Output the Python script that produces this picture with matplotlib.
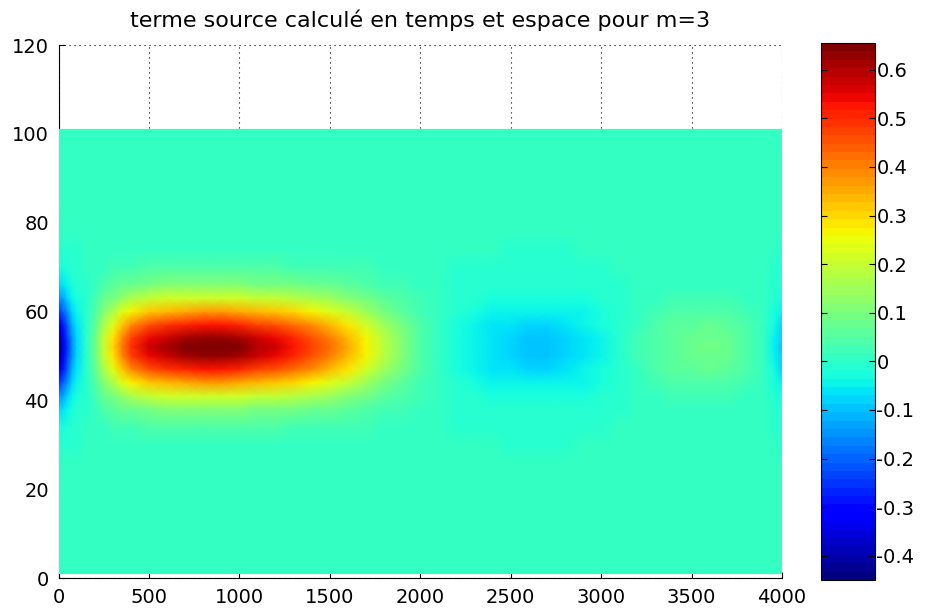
import numpy as np
import matplotlib
matplotlib.use("Agg")
import matplotlib.pyplot as plt

plt.rcParams['font.family'] = ['DejaVu Sans']
plt.rcParams['axes.unicode_minus'] = False

# ---------- DATA ----------
# time axis samples and the source amplitude along the centre line (y ~ 52)
t_nodes = [0, 25, 50, 75, 100, 150, 200, 250, 300, 350, 400, 500, 600, 700,
           800, 900, 1000, 1100, 1200, 1300, 1400, 1500, 1600, 1700, 1800,
           1900, 2000, 2100, 2200, 2300, 2400, 2500, 2600, 2700, 2800, 2900,
           3000, 3100, 3200, 3300, 3400, 3500, 3600, 3700, 3800, 3900, 3950,
           4000]
t_amp = [-0.45, -0.36, -0.25, -0.15, -0.08, -0.01, 0.08, 0.2, 0.3, 0.4,
         0.49, 0.57, 0.61, 0.64, 0.655, 0.65, 0.64, 0.6, 0.57, 0.53, 0.48,
         0.42, 0.35, 0.27, 0.18, 0.11, 0.05, 0.01, -0.03, -0.05, -0.07,
         -0.085, -0.092, -0.092, -0.085, -0.065, -0.04, -0.01, 0.02, 0.045,
         0.065, 0.08, 0.088, 0.075, 0.045, 0.0, -0.04, -0.09]

# space axis samples and the relative spatial shape of the source
y_nodes = [1, 20, 26, 30, 34, 38, 41, 44, 47, 50, 52, 54, 57, 60, 63, 66,
           70, 74, 78, 84, 101]
y_shape = [0.0, 0.0, 0.003, 0.015, 0.06, 0.17, 0.34, 0.56, 0.80, 0.96, 1.0,
           0.96, 0.80, 0.56, 0.34, 0.17, 0.06, 0.015, 0.003, 0.0, 0.0]

clim = (-0.45, 0.655)
cbar_ticks = [-0.4, -0.3, -0.2, -0.1, 0, 0.1, 0.2, 0.3, 0.4, 0.5, 0.6]
cbar_labels = ['-0.4', '-0.3', '-0.2', '-0.1', '0', '0.1', '0.2', '0.3',
               '0.4', '0.5', '0.6']
xticks = [0, 500, 1000, 1500, 2000, 2500, 3000, 3500, 4000]
yticks = [0, 20, 40, 60, 80, 100, 120]
title = 'terme source calculé en temps et espace pour m=3'

# ---------- FIELD ----------
T, Y = np.meshgrid(t_nodes, y_nodes)
Z = np.outer(y_shape, t_amp)

# ---------- PLOT ----------
fig = plt.figure(figsize=(9.26, 6.09), dpi=100)
ax = fig.add_axes([0.0632, 0.0509, 0.7813, 0.8752])
cax = fig.add_axes([0.8866, 0.0476, 0.0583, 0.8818])

jet64 = plt.get_cmap('jet', 64)
mesh = ax.pcolormesh(T, Y, Z, shading='gouraud', cmap=jet64,
                     vmin=clim[0], vmax=clim[1], zorder=3)

ax.set_xlim(0, 4000)
ax.set_ylim(0, 120)
ax.set_xticks(xticks)
ax.set_yticks(yticks)
ax.set_axisbelow(True)
ax.grid(True, color='black', linestyle=(0, (1, 3.5)), linewidth=0.8)
ax.spines['top'].set_visible(False)
ax.spines['right'].set_visible(False)
ax.tick_params(direction='in', length=4, width=0.8, labelsize=14, pad=7,
               colors='black')
ax.set_title(title, fontsize=16, pad=13)

cb = fig.colorbar(mesh, cax=cax, ticks=cbar_ticks)
cb.ax.set_yticklabels(cbar_labels)
cb.outline.set_linewidth(0.8)
cax.tick_params(direction='in', left=True, right=True, length=4, width=0.8,
                labelsize=14, pad=1)

fig.savefig('out.png', dpi=100)
